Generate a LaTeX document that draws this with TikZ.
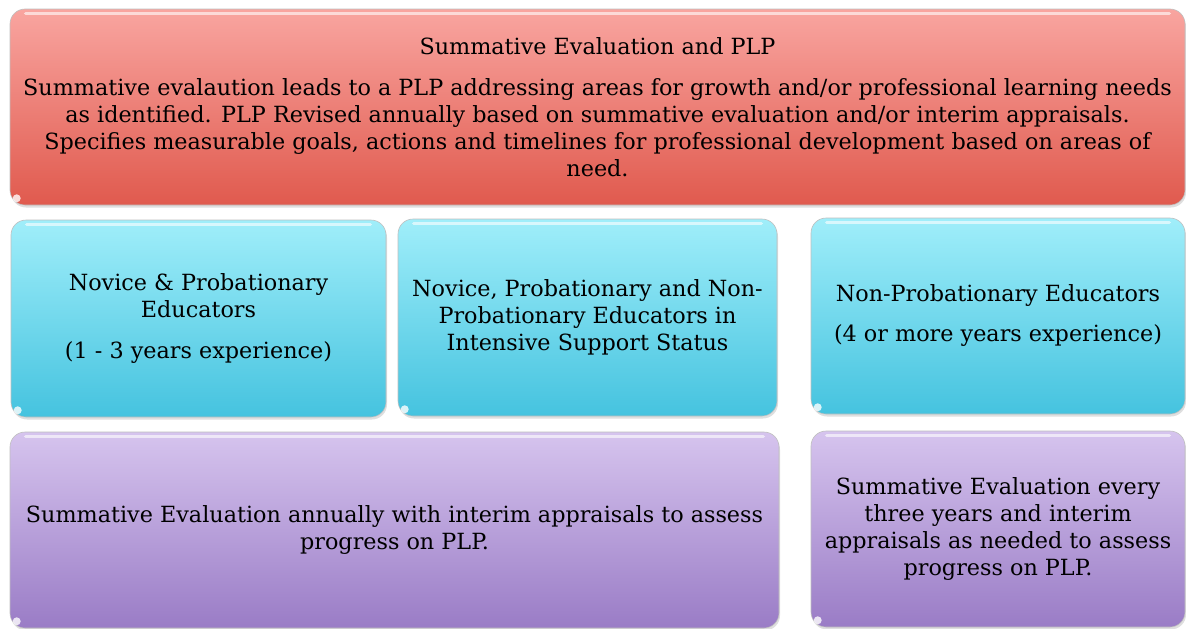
\documentclass[tikz,border=0pt]{standalone}
\usepackage{fontspec}
\setmainfont{DejaVu Serif}
\usetikzlibrary{shadows}
\definecolor{redtop}{HTML}{F9A5A0}
\definecolor{redbot}{HTML}{E05A4E}
\definecolor{cyantop}{HTML}{A0EEFA}
\definecolor{cyanbot}{HTML}{45C3DF}
\definecolor{purptop}{HTML}{D6C4EE}
\definecolor{purpbot}{HTML}{9A7CC6}
\begin{document}
\begin{tikzpicture}[x=1pt,y=-1pt,
    panel/.style={rounded corners=15pt, draw=black!25, line width=0.6pt,
        drop shadow={opacity=0.25, shadow xshift=1pt, shadow yshift=-2.5pt},
        align=center, inner sep=0pt, font=\fontsize{22.3}{27}\selectfont},
    redpanel/.style={panel, top color=redtop, bottom color=redbot},
    cyanpanel/.style={panel, top color=cyantop, bottom color=cyanbot},
    purppanel/.style={panel, top color=purptop, bottom color=purpbot}]
    \useasboundingbox (0,0) rectangle (1186,629);
    % top row
    \node[redpanel, minimum width=1175pt, minimum height=196pt] (plp) at (597.5,107)
        {Summative Evaluation and PLP\\[14pt]
         Summative evalaution leads to a PLP addressing areas for growth and/or professional learning needs\\
         as identified. PLP Revised annually based on summative evaluation and/or interim appraisals.\\
         Specifies measurable goals, actions and timelines for professional development based on areas of\\
         need.};
    % middle row
    \node[cyanpanel, minimum width=375pt, minimum height=197pt] (novice) at (198.5,318.5)
        {Novice \& Probationary\\ Educators\\[14pt] (1 - 3 years experience)};
    \node[cyanpanel, minimum width=379pt, minimum height=197pt] (intensive) at (587.5,317.5)
        {Novice, Probationary and Non-\\ Probationary Educators in\\ Intensive Support Status};
    \node[cyanpanel, minimum width=374pt, minimum height=196pt] (nonprob) at (998,316)
        {Non-Probationary Educators\\[13pt] (4 or more years experience)};
    % bottom row
    \node[purppanel, minimum width=769pt, minimum height=196pt] (annual) at (394.5,530)
        {Summative Evaluation annually with interim appraisals to assess\\ progress on PLP.};
    \node[purppanel, minimum width=374pt, minimum height=196pt] (triennial) at (998,529)
        {Summative Evaluation every\\ three years and interim\\ appraisals as needed to assess\\ progress on PLP.};
    % gloss
    \foreach \n in {plp,novice,intensive,nonprob,annual,triennial}{
        \draw[white, opacity=0.6, line width=3.5pt, line cap=round]
            ([xshift=16pt,yshift=-5pt]\n.north west) -- ([xshift=-16pt,yshift=-5pt]\n.north east);
        \fill[white, opacity=0.8] ([xshift=7pt,yshift=7pt]\n.south west) circle (4pt);
    }
\end{tikzpicture}
\end{document}
